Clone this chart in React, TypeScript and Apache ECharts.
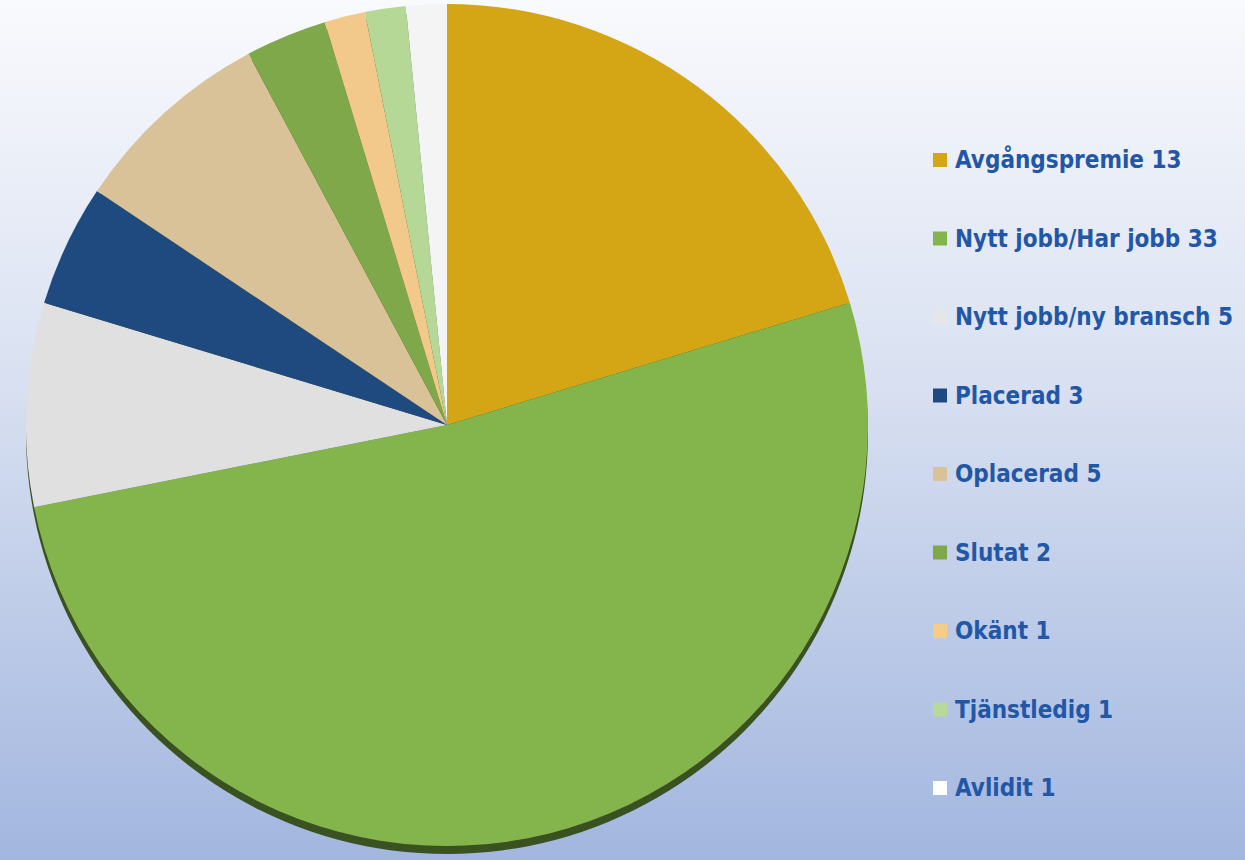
import React, { useEffect, useRef } from "react";
import * as echarts from "echarts";

const categories = [
  "Avgångspremie",
  "Nytt jobb/Har jobb",
  "Nytt jobb/ny bransch",
  "Placerad",
  "Oplacerad",
  "Slutat",
  "Okänt",
  "Tjänstledig",
  "Avlidit",
];
const values = [13, 33, 5, 3, 5, 2, 1, 1, 1];
const sliceColors = [
  "#d4a514",
  "#84b44c",
  "#e0e0e0",
  "#1e4a80",
  "#d9c298",
  "#7ea84a",
  "#f2c98a",
  "#b5d896",
  "#f4f4f4",
];
const legendColors = [
  "#d4a514",
  "#84b44c",
  "#e6e6e6",
  "#1e4a80",
  "#d9c298",
  "#7ea84a",
  "#f5cc88",
  "#b8da98",
  "#ffffff",
];

export default function App() {
  const ref = useRef<HTMLDivElement>(null);
  useEffect(() => {
    if (!ref.current) return;
    const chart = echarts.init(ref.current, undefined, { renderer: "svg" });
    const data = categories.map((c, i) => ({
      name: c,
      value: values[i],
      itemStyle: { color: sliceColors[i] },
    }));
    chart.setOption({
      animation: false,
      backgroundColor: new echarts.graphic.LinearGradient(0, 0, 0, 1, [
        { offset: 0, color: "#f9fafd" },
        { offset: 0.45, color: "#d8e0f1" },
        { offset: 1, color: "#a2b6df" },
      ]),
      legend: {
        orient: "vertical",
        left: 933,
        top: 147,
        padding: 0,
        icon: "rect",
        itemWidth: 14,
        itemHeight: 14,
        itemGap: 52.5,
        selectedMode: false,
        data: categories.map((c, i) => ({
          name: c,
          itemStyle: { color: legendColors[i] },
        })),
        formatter: (name: string) => `${name} ${values[categories.indexOf(name)]}`,
        textStyle: {
          color: "#2157a6",
          fontFamily: "DejaVu Sans Condensed",
          fontWeight: "bold",
          fontSize: 24,
          lineHeight: 26,
          padding: [0, 0, 0, 3],
        },
      },
      series: [
        {
          type: "pie",
          silent: true,
          center: [447, 433],
          radius: 421,
          startAngle: 90,
          label: { show: false },
          labelLine: { show: false },
          itemStyle: { color: "#3a5221" },
          data: [{ name: "shadow", value: 1 }],
          z: 1,
        },
        {
          type: "pie",
          center: [447, 425],
          radius: 421,
          startAngle: 90,
          clockwise: true,
          label: { show: false },
          labelLine: { show: false },
          emphasis: { disabled: true },
          data,
          z: 2,
        },
      ],
    });
    return () => chart.dispose();
  }, []);
  return (
    <div
      ref={ref}
      style={{ position: "fixed", left: 0, top: 0, width: 1245, height: 860 }}
    />
  );
}
